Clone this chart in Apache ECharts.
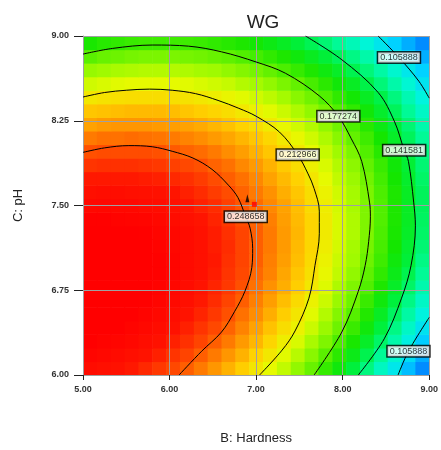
<!DOCTYPE html>
<html>
<head>
<meta charset="utf-8">
<script src="https://cdn.jsdelivr.net/npm/echarts@6/dist/echarts.min.js"></script>
<style>
html,body{margin:0;padding:0;background:#fff;}
#chart{width:441px;height:450px;}
</style>
</head>
<body>
<div id="chart"></div>
<script>
// ---- data ----
const TITLE = 'WG';
const X_NAME = 'B: Hardness';
const Y_NAME = 'C: pH';
const X_TICKS = ['5.00', '6.00', '7.00', '8.00', '9.00'];
const Y_TICKS = ['6.00', '6.75', '7.50', '8.25', '9.00'];

// cell centres of the coloured response grid
const B_CENTERS = [5.08, 5.24, 5.40, 5.56, 5.72, 5.88, 6.04, 6.20, 6.36, 6.52, 6.68, 6.84, 7.00, 7.16, 7.32, 7.48, 7.64, 7.80, 7.96, 8.12, 8.28, 8.44, 8.60, 8.76, 8.92];
const C_CENTERS = [6.06, 6.18, 6.30, 6.42, 6.54, 6.66, 6.78, 6.90, 7.02, 7.14, 7.26, 7.38, 7.50, 7.62, 7.74, 7.86, 7.98, 8.10, 8.22, 8.34, 8.46, 8.58, 8.70, 8.82, 8.94];

// WG value of each cell, one row per C_CENTERS entry (bottom to top)
const WG_ROWS = [
  [.271,.269,.267,.264,.260,.256,.252,.247,.241,.235,.228,.221,.213,.205,.197,.187,.178,.167,.157,.145,.134,.121,.109,.095,.082],
  [.276,.274,.272,.269,.266,.262,.257,.253,.247,.241,.235,.228,.220,.212,.204,.195,.185,.175,.165,.154,.142,.130,.118,.105,.091],
  [.280,.278,.276,.274,.270,.267,.262,.258,.253,.247,.241,.234,.227,.219,.210,.202,.192,.183,.172,.161,.150,.138,.126,.113,.099],
  [.283,.282,.280,.277,.274,.271,.267,.262,.257,.252,.246,.239,.232,.224,.216,.208,.199,.189,.179,.168,.157,.145,.133,.120,.107],
  [.285,.284,.282,.280,.277,.274,.270,.266,.261,.256,.250,.243,.237,.229,.221,.213,.204,.194,.184,.174,.163,.151,.139,.127,.114],
  [.287,.286,.284,.282,.279,.276,.273,.269,.264,.259,.253,.247,.240,.233,.225,.217,.208,.199,.189,.179,.168,.157,.145,.133,.120],
  [.287,.287,.285,.283,.281,.278,.275,.271,.266,.261,.256,.250,.243,.236,.229,.221,.212,.203,.193,.183,.173,.162,.150,.138,.125],
  [.287,.287,.285,.284,.282,.279,.276,.272,.268,.263,.257,.252,.245,.239,.231,.223,.215,.206,.197,.187,.176,.166,.154,.142,.130],
  [.286,.286,.285,.283,.281,.279,.276,.272,.268,.264,.258,.253,.247,.240,.233,.225,.217,.208,.199,.190,.179,.169,.157,.146,.133],
  [.285,.284,.283,.282,.280,.278,.275,.272,.268,.263,.259,.253,.247,.241,.234,.226,.218,.210,.201,.191,.181,.171,.160,.148,.136],
  [.282,.282,.281,.280,.279,.276,.274,.271,.267,.263,.258,.253,.247,.241,.234,.227,.219,.211,.202,.193,.183,.172,.161,.150,.138],
  [.279,.279,.278,.277,.276,.274,.271,.268,.265,.261,.256,.251,.246,.240,.233,.226,.219,.211,.202,.193,.183,.173,.162,.151,.139],
  [.274,.275,.274,.274,.272,.271,.268,.266,.262,.259,.254,.249,.244,.238,.232,.225,.217,.210,.201,.192,.183,.173,.162,.151,.140],
  [.269,.270,.270,.269,.268,.267,.265,.262,.259,.255,.251,.246,.241,.236,.229,.223,.216,.208,.200,.191,.182,.172,.162,.151,.140],
  [.264,.264,.264,.264,.263,.262,.260,.258,.255,.251,.247,.243,.238,.232,.226,.220,.213,.205,.197,.189,.180,.170,.160,.149,.138],
  [.257,.258,.258,.258,.257,.256,.254,.252,.250,.246,.243,.238,.234,.228,.222,.216,.209,.202,.194,.186,.177,.168,.158,.147,.136],
  [.250,.251,.251,.251,.251,.250,.248,.246,.244,.241,.237,.233,.228,.223,.218,.212,.205,.198,.190,.182,.173,.164,.154,.144,.134],
  [.241,.243,.243,.244,.243,.242,.241,.239,.237,.234,.231,.227,.223,.218,.212,.206,.200,.193,.185,.177,.169,.160,.150,.140,.130],
  [.232,.234,.235,.235,.235,.234,.233,.232,.230,.227,.224,.220,.216,.211,.206,.200,.194,.187,.180,.172,.164,.155,.146,.136,.125],
  [.223,.224,.225,.226,.226,.226,.225,.223,.221,.219,.216,.212,.208,.204,.199,.193,.187,.181,.173,.166,.158,.149,.140,.130,.120],
  [.212,.214,.215,.216,.216,.216,.215,.214,.212,.210,.207,.204,.200,.196,.191,.185,.180,.173,.166,.159,.151,.143,.134,.124,.114],
  [.200,.202,.204,.205,.205,.205,.205,.204,.202,.200,.198,.194,.191,.187,.182,.177,.171,.165,.158,.151,.143,.135,.126,.117,.107],
  [.188,.190,.192,.193,.194,.194,.194,.193,.191,.190,.187,.184,.181,.177,.172,.167,.162,.156,.150,.142,.135,.127,.118,.109,.100],
  [.175,.178,.179,.181,.182,.182,.182,.181,.180,.178,.176,.173,.170,.166,.162,.157,.152,.146,.140,.133,.126,.118,.110,.101,.091],
  [.161,.164,.166,.168,.169,.169,.169,.169,.168,.166,.164,.162,.159,.155,.151,.146,.141,.136,.130,.123,.116,.108,.100,.091,.082]
];

// contour lines, points [B, C]
const CONTOUR_LEVELS = ['0.248658', '0.212966', '0.177274', '0.141581', '0.105888', '0.105888'];
const C248 = [[5.0,7.97],[5.25,8.01],[5.53,8.03],[5.8,8.02],[6.03,7.98],[6.27,7.92],[6.49,7.82],[6.68,7.68],[6.79,7.57],[6.88,7.40],[6.93,7.30],[6.96,7.12],[6.95,6.95],[6.87,6.74],[6.75,6.56],[6.6,6.38],[6.37,6.21],[6.11,6.0]];
const C213 = [[5.0,8.46],[5.25,8.50],[5.5,8.52],[5.77,8.53],[6.03,8.52],[6.3,8.49],[6.56,8.43],[6.8,8.36],[7.0,8.29],[7.27,8.15],[7.48,7.95],[7.6,7.78],[7.67,7.65],[7.73,7.45],[7.73,7.25],[7.68,6.97],[7.61,6.68],[7.45,6.39],[7.3,6.22],[7.04,6.0]];
const C177 = [[5.0,8.84],[5.34,8.89],[5.8,8.92],[6.22,8.91],[6.6,8.86],[7.0,8.77],[7.34,8.67],[7.73,8.47],[7.95,8.29],[8.1,8.09],[8.22,7.89],[8.31,7.53],[8.32,7.40],[8.30,7.18],[8.26,6.97],[8.18,6.74],[7.99,6.38],[7.67,6.0]];
const C141 = [[7.57,9.0],[7.99,8.79],[8.41,8.50],[8.60,8.24],[8.71,7.99],[8.76,7.89],[8.82,7.53],[8.84,7.32],[8.79,6.97],[8.68,6.68],[8.48,6.32],[8.18,6.0]];
const C106A = [[8.41,9.0],[8.65,8.81],[8.88,8.6],[9.0,8.45]];
const C106B = [[9.0,6.51],[8.76,6.21],[8.64,6.0]];
const CONTOURS = [C248, C213, C177, C141, C106A, C106B];
// which point of each curve carries its value box
const LABEL_INDEX = [9, 10, 8, 4, 1, 1];

// design point marker
const MARKER = [[6.98, 7.51]];

// ---- chart ----
const cellData = [];
C_CENTERS.forEach((c, j) => {
  B_CENTERS.forEach((b, i) => { cellData.push([b, c, WG_ROWS[j][i]]); });
});
const CELL_B = B_CENTERS[1] - B_CENTERS[0];
const CELL_C = C_CENTERS[1] - C_CENTERS[0];

const labelData = CONTOURS.map((arr, k) => ({
  value: arr[LABEL_INDEX[k]],
  label: { formatter: CONTOUR_LEVELS[k] }
}));

const FONT = '"Liberation Sans", Arial, sans-serif';

const series = [{
  type: 'custom',
  data: cellData,
  encode: { x: 0, y: 1 },
  z: 1,
  silent: true,
  clip: true,
  renderItem: function (params, api) {
    const b = api.value(0), c = api.value(1);
    const p0 = api.coord([b - CELL_B / 2, c + CELL_C / 2]);
    const p1 = api.coord([b + CELL_B / 2, c - CELL_C / 2]);
    return {
      type: 'rect',
      shape: { x: p0[0], y: p0[1], width: p1[0] - p0[0] + 0.6, height: p1[1] - p0[1] + 0.6 },
      style: { fill: api.visual('color') }
    };
  }
}];

CONTOURS.forEach(arr => {
  series.push({
    type: 'line',
    data: arr,
    smooth: 0.35,
    showSymbol: false,
    silent: true,
    z: 6,
    lineStyle: { color: '#000', width: 1 }
  });
});

series.push({
  type: 'scatter',
  data: labelData,
  z: 8,
  silent: true,
  symbolSize: 2,
  itemStyle: { color: 'rgba(0,0,0,0)' },
  label: {
    show: true,
    position: 'inside',
    fontFamily: FONT,
    fontSize: 9,
    color: '#000',
    backgroundColor: '#fff',
    borderColor: '#000',
    borderWidth: 1.5,
    padding: [1, 2, 0, 2],
    lineHeight: 9
  },
  labelLayout: { hideOverlap: false }
});

series.push({
  type: 'scatter',
  data: MARKER,
  z: 9,
  silent: true,
  symbol: 'rect',
  symbolSize: 5,
  itemStyle: { color: '#ff0000' }
});
series.push({
  type: 'scatter',
  data: MARKER,
  z: 9,
  silent: true,
  symbol: 'triangle',
  symbolSize: [4, 8],
  symbolOffset: [-7, -6],
  itemStyle: { color: '#000' }
});

const option = {
  animation: false,
  backgroundColor: '#fff',
  title: {
    text: TITLE,
    left: 258,
    top: 8,
    textAlign: 'center',
    textStyle: { fontFamily: FONT, fontSize: 19, fontWeight: 'normal', color: '#222' }
  },
  grid: { left: 83, top: 36, right: 8, bottom: 74, containLabel: false },
  visualMap: {
    show: false,
    type: 'continuous',
    seriesIndex: 0,
    dimension: 2,
    min: 0.07,
    max: 0.295,
    inRange: {
      color: ['#0064ff', '#0096ff', '#00d2ff', '#00f5dc', '#00fa96', '#00f03c',
              '#14e600', '#5af000', '#a0fa00', '#e6fa00', '#ffd200', '#ff9600',
              '#ff5000', '#ff1400', '#ff0000', '#ff0000']
    }
  },
  xAxis: {
    type: 'value',
    min: 5, max: 9, interval: 1,
    z: 4,
    name: X_NAME,
    nameLocation: 'middle',
    nameGap: 57,
    nameTextStyle: { fontFamily: FONT, fontSize: 13, color: '#222' },
    axisLine: { show: true, lineStyle: { color: '#a0a0a0', width: 1 } },
    axisTick: { show: true, inside: false, length: 5, lineStyle: { color: '#222' } },
    axisLabel: {
      margin: 10, fontFamily: FONT, fontSize: 9, fontWeight: 'bold', color: '#333',
      formatter: (v) => X_TICKS[Math.round(v - 5)]
    },
    splitLine: { show: true, lineStyle: { color: '#a0a0a0', width: 1 } }
  },
  yAxis: {
    type: 'value',
    min: 6, max: 9, interval: 0.75,
    z: 4,
    name: Y_NAME,
    nameLocation: 'middle',
    nameGap: 58,
    nameRotate: 90,
    nameTextStyle: { fontFamily: FONT, fontSize: 13, color: '#222' },
    axisLine: { show: true, lineStyle: { color: '#a0a0a0', width: 1 } },
    axisTick: { show: true, inside: false, length: 9, lineStyle: { color: '#222' } },
    axisLabel: {
      margin: 14, fontFamily: FONT, fontSize: 9, fontWeight: 'bold', color: '#333',
      formatter: (v) => Y_TICKS[Math.round((v - 6) / 0.75)]
    },
    splitLine: { show: true, lineStyle: { color: '#a0a0a0', width: 1 } }
  },
  series: series
};

const chart = echarts.init(document.getElementById('chart'), null, { renderer: 'canvas' });
chart.setOption(option);
</script>
</body>
</html>
